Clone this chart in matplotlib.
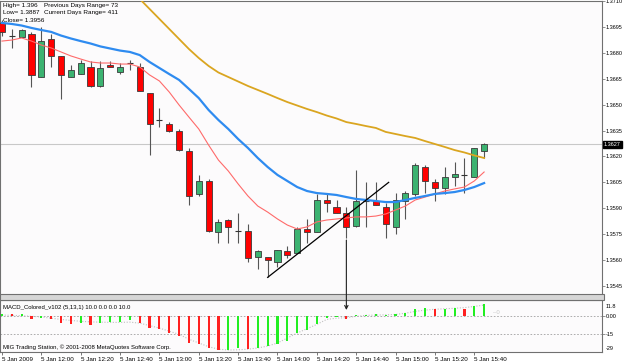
import matplotlib
matplotlib.use('Agg')
import matplotlib.pyplot as plt
import matplotlib.transforms as mtransforms
from matplotlib.patches import Rectangle, ConnectionPatch
import numpy as np

plt.rcParams['font.family'] = ['Liberation Sans', 'DejaVu Sans']

# ---------------- data (5-minute EURUSD-style bars) ----------------
opens = [1.3697, 1.3690, 1.3689, 1.3691, 1.3666, 1.3688, 1.3678, 1.3666, 1.3668, 1.3672,
         1.3661, 1.3673, 1.3669, 1.3674, 1.3672, 1.3657, 1.3641, 1.3639, 1.3635, 1.3623,
         1.3598, 1.3606, 1.3576, 1.3583, 1.3577, 1.3577, 1.3562, 1.3562, 1.3559, 1.3565,
         1.3564, 1.3578, 1.3576, 1.3595, 1.3591, 1.3587, 1.3580, 1.3594, 1.3594, 1.3591,
         1.3579, 1.3594, 1.3598, 1.3614, 1.3605, 1.3602, 1.3608, 1.3609, 1.3608, 1.3623]
highs = [1.3699, 1.3694, 1.3694, 1.3692, 1.3695, 1.3691, 1.3678, 1.3673, 1.3676, 1.3675,
         1.3675, 1.3675, 1.3674, 1.3676, 1.3674, 1.3657, 1.3648, 1.3640, 1.3636, 1.3625,
         1.3609, 1.3607, 1.3584, 1.3584, 1.3587, 1.3581, 1.3566, 1.3562, 1.3566, 1.3568,
         1.3579, 1.3584, 1.3598, 1.3599, 1.3595, 1.3591, 1.3612, 1.3605, 1.3605, 1.3593,
         1.3599, 1.3600, 1.3616, 1.3615, 1.3607, 1.3614, 1.3617, 1.3619, 1.3625, 1.3628]
lows = [1.3690, 1.3683, 1.3689, 1.3660, 1.3666, 1.3672, 1.3653, 1.3666, 1.3668, 1.3660,
        1.3660, 1.3672, 1.3668, 1.3670, 1.3658, 1.3621, 1.3637, 1.3634, 1.3623, 1.3592,
        1.3597, 1.3576, 1.3570, 1.3570, 1.3570, 1.3559, 1.3555, 1.3550, 1.3556, 1.3561,
        1.3564, 1.3570, 1.3576, 1.3588, 1.3587, 1.3573, 1.3579, 1.3579, 1.3592, 1.3573,
        1.3575, 1.3584, 1.3597, 1.3599, 1.3594, 1.3598, 1.3603, 1.3599, 1.3608, 1.3619]
closes = [1.3692, 1.3690, 1.3693, 1.3667, 1.3687, 1.3678, 1.3667, 1.3670, 1.3674, 1.3661,
          1.3671, 1.3672, 1.3672, 1.3674, 1.3658, 1.3639, 1.3641, 1.3635, 1.3624, 1.3597,
          1.3606, 1.3577, 1.3582, 1.3579, 1.3577, 1.3561, 1.3565, 1.3560, 1.3566, 1.3563,
          1.3578, 1.3576, 1.3595, 1.3593, 1.3587, 1.3579, 1.3594, 1.3594, 1.3592, 1.3581,
          1.3595, 1.3599, 1.3615, 1.3606, 1.3602, 1.3608, 1.3610, 1.3609, 1.3625, 1.3627]

ma_fast = [1.36868, 1.36874, 1.36886, 1.36868, 1.36845, 1.36828, 1.36805, 1.36782, 1.36764, 1.36747,
           1.36741, 1.36741, 1.36735, 1.36735, 1.36718, 1.36672, 1.36637, 1.36573, 1.36498, 1.36428,
           1.36359, 1.36266, 1.36179, 1.36116, 1.36041, 1.35971, 1.35913, 1.35878, 1.35838, 1.35803,
           1.35780, 1.35792, 1.35821, 1.35832, 1.35838, 1.35844, 1.35850, 1.35850, 1.35855, 1.35867,
           1.35890, 1.35913, 1.35948, 1.35965, 1.35983, 1.36000, 1.36012, 1.36023, 1.36058, 1.36110]
ma_mid = [1.36973, 1.36967, 1.36958, 1.36944, 1.36932, 1.36921, 1.36900, 1.36883, 1.36868, 1.36854,
          1.36837, 1.36825, 1.36813, 1.36805, 1.36787, 1.36747, 1.36712, 1.36677, 1.36643, 1.36591,
          1.36538, 1.36469, 1.36411, 1.36359, 1.36301, 1.36249, 1.36191, 1.36139, 1.36093, 1.36058,
          1.36023, 1.36000, 1.35988, 1.35983, 1.35977, 1.35965, 1.35954, 1.35948, 1.35942, 1.35936,
          1.35936, 1.35948, 1.35960, 1.35971, 1.35983, 1.35988, 1.35994, 1.36006, 1.36023, 1.36046]
nan = float('nan')
ma_slow = [nan] * 12 + [
          1.37227, 1.37169, 1.37112, 1.37054, 1.36996, 1.36938, 1.36880, 1.36822,
          1.36770, 1.36724, 1.36686, 1.36660, 1.36634, 1.36608, 1.36585, 1.36562, 1.36538, 1.36515,
          1.36495, 1.36475, 1.36457, 1.36437, 1.36420, 1.36399, 1.36388, 1.36376, 1.36365, 1.36342,
          1.36330, 1.36318, 1.36307, 1.36289, 1.36272, 1.36255, 1.36237, 1.36223, 1.36206, 1.36191]

macd_hist = [1.3, 1.0, 1.0, -3.0, -1.6, -3.0, -6.0, -6.7, -6.0, -7.5,
             -6.0, -5.0, -5.0, -3.5, -6.0, -10.0, -11.0, -13.7, -16.0, -21.8,
             -23.0, -26.0, -28.0, -27.7, -25.8, -27.0, -25.8, -24.5, -22.8, -20.4,
             -14.0, -11.6, -7.0, -2.0, -0.8, -2.5, 0.5, 0.8, 1.3, 0.5,
             1.0, 2.4, 5.4, 5.9, 5.4, 5.4, 5.9, 5.4, 7.8, 9.4]
macd_up = [1, 0, 1, 0, 1, 0, 0, 0, 1, 0,
           1, 1, 1, 1, 0, 0, 0, 0, 0, 0,
           0, 0, 0, 1, 1, 0, 1, 1, 1, 1,
           1, 1, 1, 1, 1, 0, 1, 1, 1, 1,
           1, 1, 1, 1, 0, 1, 1, 0, 1, 1]
macd_signal = [0.5, 0.3, 0.0, -0.5, -1.0, -2.0, -3.0, -3.8, -4.5, -5.0,
               -5.2, -5.4, -5.4, -5.2, -6.0, -8.0, -10.0, -12.5, -15.0, -19.0,
               -22.0, -25.0, -27.0, -27.7, -27.5, -27.0, -26.0, -24.5, -22.0, -18.0,
               -14.0, -10.5, -7.0, -3.0, -2.0, -1.6, -0.5, 0.3, 0.5, 0.7,
               1.0, 2.0, 3.5, 4.5, 5.2, 5.6, 6.0, 6.5, 7.5, 8.6]
macd_levels = [0.0, -15.0]

price_ticks = [1.3710, 1.3695, 1.3680, 1.3665, 1.3650, 1.3635, 1.3620,
               1.3605, 1.3590, 1.3575, 1.3560, 1.3545]
time_tick_bars = [0, 4, 8, 12, 16, 20, 24, 28, 32, 36, 40, 44, 48]
time_tick_labels = ['5 Jan 2009', '5 Jan 12:00', '5 Jan 12:20', '5 Jan 12:40',
                    '5 Jan 13:00', '5 Jan 13:20', '5 Jan 13:40', '5 Jan 14:00',
                    '5 Jan 14:20', '5 Jan 14:40', '5 Jan 15:00', '5 Jan 15:20',
                    '5 Jan 15:40']
bid_price = 1.3627
trend_bars = [27, 39.3]
trend_prices = [1.3550, 1.3605]
arrow_bar = 35
arrow_price = 1.35716
arrow_macd = 4.6
info_lines = [('High= 1.396', 'Previous Days Range= 73'),
              ('Low= 1.3887', 'Current Days Range= 411'),
              ('Close= 1.3956', '')]

# ---------------- figure ----------------
W, H = 625, 363
fig = plt.figure(figsize=(W / 100, H / 100), dpi=100)
fig.patch.set_facecolor('white')


def rect(x0, y0, x1, y1):
    return [x0 / W, 1 - y1 / H, (x1 - x0) / W, (y1 - y0) / H]


bg = '#FCFBFC'
ax = fig.add_axes(rect(0, 1, 602, 294))
mx = fig.add_axes(rect(0, 300, 602, 352))
for a in (ax, mx):
    a.set_facecolor(bg)
    a.set_xlim(-0.2, 60.98)
    for s in a.spines.values():
        s.set_color('#707070')
        s.set_linewidth(0.8)

n = len(opens)
xs = np.arange(n)
o = np.array(opens); c = np.array(closes); h = np.array(highs); l = np.array(lows)

ax.axhline(bid_price, color='#C8C8C8', lw=0.8, zorder=1)
ax.vlines(xs, l, h, color='#555555', lw=0.8, zorder=2)
up = c > o
dn = c < o
ax.bar(xs[up], (c - o)[up], bottom=o[up], width=0.62, color='#3CB371',
       edgecolor='#3A3A3A', linewidth=0.6, zorder=3)
ax.bar(xs[dn], (o - c)[dn], bottom=c[dn], width=0.62, color='#FF0000',
       edgecolor='#3A3A3A', linewidth=0.6, zorder=3)
doji = c == o
ax.hlines(c[doji], xs[doji] - 0.3, xs[doji] + 0.3, color='#333333', lw=0.8, zorder=3)

ax.plot(xs, ma_fast, color='#FF6A6A', lw=0.8, zorder=4)
ax.plot(xs, ma_mid, color='#2E8BF0', lw=1.6, zorder=4)
ax.plot(xs, ma_slow, color='#DAA520', lw=1.3, zorder=4)
ax.plot(trend_bars, trend_prices, color='black', lw=0.9, zorder=5)

ax.set_ylim(1.354037, 1.3710)
ax.yaxis.tick_right()
ax.set_yticks(price_ticks)
ax.set_yticklabels([f'{v:.4f}' for v in price_ticks])
ax.tick_params(axis='y', length=2, width=0.6, color='#808080', labelsize=4.0, pad=0.8)
ax.set_xticks([])
ax.spines['bottom'].set_visible(False)

tr = mtransforms.blended_transform_factory(ax.transAxes, ax.transData)
ax.text(1.003, bid_price, f'{bid_price:.4f}', transform=tr, color='white', fontsize=4.0,
        va='center', ha='left',
        bbox=dict(boxstyle='square,pad=0.2', facecolor='black', edgecolor='black'))

for k, (left, right) in enumerate(info_lines):
    yy = 5 + 7.5 * k
    fig.text(3 / W, 1 - yy / H, left, fontsize=4.6, va='center', ha='left')
    if right:
        fig.text(44 / W, 1 - yy / H, right, fontsize=4.6, va='center', ha='left')

# ---------------- MACD ----------------
hist_colors = ['#22EE22' if u else '#FF2020' for u in macd_up]
mx.bar(xs, macd_hist, width=0.22, color=hist_colors, zorder=3)
mx.plot(xs, macd_signal, color='#C0C0C0', lw=0.8, ls=(0, (1, 1.5)), zorder=2)
for lv in macd_levels:
    mx.axhline(lv, color='#A0A0A0', lw=0.6, ls=(0, (2, 2)), zorder=1)
mx.set_ylim(-29.27, 12.66)
mx.yaxis.tick_right()
mx.set_yticks(macd_levels)
mx.set_yticklabels(['0.00', '-15'])
mx.tick_params(axis='y', length=2, width=0.6, color='#808080', labelsize=4.0, pad=0.8)
mx.text(1.006, 0.88, '11.8', transform=mx.transAxes, fontsize=4.0, va='center', ha='left')
mx.text(1.006, 0.06, '-29', transform=mx.transAxes, fontsize=4.0, va='center', ha='left')
mx.set_xticks(time_tick_bars)
mx.set_xticklabels(time_tick_labels, ha='left')
mx.tick_params(axis='x', length=2.5, width=0.6, color='#606060', labelsize=4.5, pad=1)
mx.text(0.005, 0.865, 'MACD_Colored_v102 (5,13,1) 10.0 0.0 0.0 10.0', transform=mx.transAxes,
        fontsize=4.3, va='center', ha='left')
mx.text(0.005, 0.096, 'MIG Trading Station, \u00a9 2001-2008 MetaQuotes Software Corp.',
        transform=mx.transAxes, fontsize=4.3, va='center', ha='left')
fig.text(493 / W, 1 - 313 / H, '\u20130', fontsize=4.3, color='#C8C8C8', va='center', ha='left')

# separator band between main chart and indicator window
fig.add_artist(Rectangle((0, 1 - 300 / H), 604 / W, 6 / H, transform=fig.transFigure,
                         facecolor='#D6D6D6', edgecolor='#707070', lw=0.8))

con = ConnectionPatch(xyA=(arrow_bar, arrow_price), coordsA=ax.transData,
                      xyB=(arrow_bar, arrow_macd), coordsB=mx.transData,
                      arrowstyle='->', color='#202020', lw=0.8, mutation_scale=6, zorder=10)
fig.add_artist(con)

fig.savefig('out.png', dpi=100, facecolor='white')
